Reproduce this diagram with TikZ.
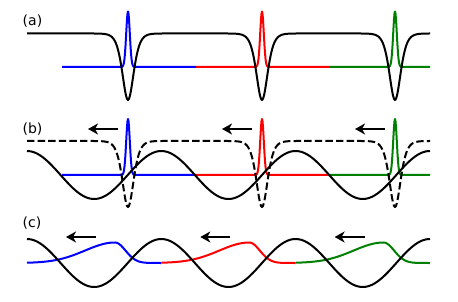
\documentclass[tikz,border=0pt]{standalone}
\usepackage{fontspec}
\setmainfont{DejaVu Sans}
\usetikzlibrary{arrows.meta}
\definecolor{pgreen}{RGB}{0,128,0}

\begin{document}
\begin{tikzpicture}[x=1pt,y=-1pt,
  declare function={sechsq(\u)=4*exp(-2*abs(\u))/(1+exp(-2*abs(\u)))^2;
                    gauss(\u)=exp(-0.5*\u*\u);},
  wave/.style={line width=2pt,line join=round},
  move/.style={line width=2pt,-{Stealth[length=10pt,width=11pt,inset=3pt]}},
  panel/.style={font=\fontsize{14}{16}\selectfont}]
\useasboundingbox (0,0) rectangle (458,302);

% (a) narrow pulses on top of the dips
\node[panel] (la) at (32.5,21) {(a)};
\foreach \c/\s/\e/\col in {128/62/196/blue,262/196/329/red,395/329/430/pgreen}
  \draw[wave,\col] (\s,67) -- plot[domain=\c-12:\c+12,samples=49]
    (\x,{67-55.5*gauss((\x-\c)/1.8)}) -- (\e,67);
\draw[wave] (27,33.5)
  \foreach \c [evaluate=\c as \lo using \c-35, evaluate=\c as \hi using \c+35]
    in {128,262,395} { -- plot[domain=\lo:\hi,samples=71]
    (\x,{33.5+66.5*sechsq((\x-\c)/7.5)}) } -- (430,33.5);

% (b) same with the standing wave
\node[panel] (lb) at (32.5,129) {(b)};
\foreach \c/\s/\e/\col in {128/62/196/blue,262/196/329/red,395/329/430/pgreen}
  \draw[wave,\col] (\s,175) -- plot[domain=\c-12:\c+12,samples=49]
    (\x,{175-56*gauss((\x-\c)/1.8)}) -- (\e,175);
\draw[wave,dash pattern=on 7.4pt off 3.2pt] (27,141)
  \foreach \c [evaluate=\c as \lo using \c-35, evaluate=\c as \hi using \c+35]
    in {128,262,395} { -- plot[domain=\lo:\hi,samples=71]
    (\x,{141+66*sechsq((\x-\c)/7.5)}) } -- (430,141);
\draw[wave] plot[domain=27:430,samples=201] (\x,{175-24*cos(2.6806*(\x-27))});
\foreach \c in {128,262,395}
  \draw[move] (\c-10,129) -- (\c-40,129);

% (c) skewed pulses
\node[panel] (lc) at (32,223) {(c)};
\foreach \s/\col in {27/blue,161.3/red,295.6/pgreen}
  \draw[wave,\col] plot[domain=\s:\s+134.3,samples=135]
    (\x,{263-20.5*((\x<\s+88)*gauss((\x-\s-88)/30)+(\x>=\s+88)*gauss((\x-\s-88)/10.5))});
\draw[wave] plot[domain=27:430,samples=201] (\x,{263-24*cos(2.6806*(\x-27))});
\foreach \s in {27,161.3,295.6}
  \draw[move] (\s+69,237) -- (\s+39,237);
\end{tikzpicture}
\end{document}
